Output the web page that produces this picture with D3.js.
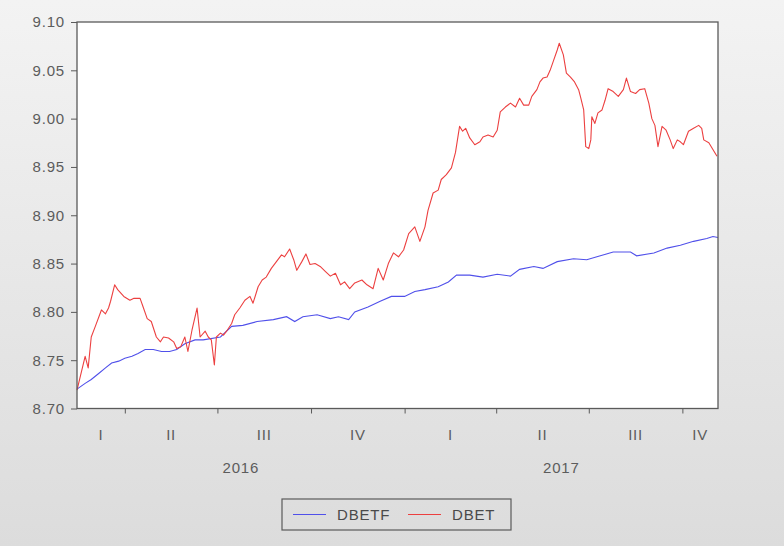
<!DOCTYPE html>
<html>
<head>
<meta charset="utf-8">
<script src="https://cdn.jsdelivr.net/npm/d3@7"></script>
<style>
  html, body { margin: 0; padding: 0; background: #ffffff; }
  svg text { font-family: "Liberation Sans", Arial, sans-serif; letter-spacing: 0.8px; }
</style>
</head>
<body>
<div id="chart"></div>
<script>
// DBET (red)
const dbetDates = [
  "2016-02-14", "2016-02-22", "2016-02-25", "2016-02-28", "2016-03-03", "2016-03-09", "2016-03-13", "2016-03-16", "2016-03-18", "2016-03-22",
  "2016-03-25", "2016-03-31", "2016-04-06", "2016-04-10", "2016-04-16", "2016-04-19", "2016-04-23", "2016-04-27", "2016-05-02", "2016-05-06",
  "2016-05-09", "2016-05-14", "2016-05-19", "2016-05-22", "2016-05-26", "2016-05-30", "2016-06-02", "2016-06-06", "2016-06-11", "2016-06-14",
  "2016-06-19", "2016-06-22", "2016-06-25", "2016-06-28", "2016-06-30", "2016-07-04", "2016-07-07", "2016-07-10", "2016-07-15", "2016-07-18",
  "2016-07-23", "2016-07-28", "2016-08-02", "2016-08-05", "2016-08-10", "2016-08-14", "2016-08-18", "2016-08-23", "2016-08-28", "2016-09-02",
  "2016-09-05", "2016-09-10", "2016-09-14", "2016-09-17", "2016-09-22", "2016-09-26", "2016-09-30", "2016-10-05", "2016-10-10", "2016-10-15",
  "2016-10-20", "2016-10-25", "2016-10-30", "2016-11-03", "2016-11-08", "2016-11-13", "2016-11-20", "2016-11-25", "2016-12-01", "2016-12-06",
  "2016-12-11", "2016-12-16", "2016-12-21", "2016-12-26", "2016-12-31", "2017-01-05", "2017-01-11", "2017-01-16", "2017-01-21", "2017-01-24",
  "2017-01-29", "2017-02-03", "2017-02-06", "2017-02-11", "2017-02-16", "2017-02-20", "2017-02-24", "2017-02-27", "2017-03-02", "2017-03-06",
  "2017-03-11", "2017-03-16", "2017-03-19", "2017-03-24", "2017-03-29", "2017-04-02", "2017-04-05", "2017-04-10", "2017-04-15", "2017-04-20",
  "2017-04-24", "2017-04-28", "2017-05-03", "2017-05-06", "2017-05-11", "2017-05-14", "2017-05-17", "2017-05-21", "2017-05-24", "2017-05-27",
  "2017-05-31", "2017-06-02", "2017-06-06", "2017-06-09", "2017-06-13", "2017-06-17", "2017-06-21", "2017-06-23", "2017-06-26", "2017-06-28",
  "2017-07-01", "2017-07-03", "2017-07-04", "2017-07-07", "2017-07-10", "2017-07-14", "2017-07-17", "2017-07-20", "2017-07-25", "2017-07-30",
  "2017-08-04", "2017-08-07", "2017-08-11", "2017-08-16", "2017-08-20", "2017-08-25", "2017-08-29", "2017-09-01", "2017-09-04", "2017-09-07",
  "2017-09-11", "2017-09-15", "2017-09-19", "2017-09-22", "2017-09-26", "2017-09-29", "2017-10-02", "2017-10-07", "2017-10-12", "2017-10-17",
  "2017-10-20", "2017-10-22", "2017-10-27", "2017-10-31", "2017-11-04"
];
const dbetValues = [
  8.719, 8.754, 8.742, 8.774, 8.785, 8.802, 8.798, 8.804, 8.811, 8.828,
  8.823, 8.816, 8.812, 8.814, 8.814, 8.805, 8.793, 8.790, 8.774, 8.769,
  8.774, 8.773, 8.769, 8.762, 8.764, 8.774, 8.759, 8.781, 8.804, 8.774,
  8.780, 8.774, 8.771, 8.745, 8.774, 8.778, 8.776, 8.780, 8.788, 8.797,
  8.804, 8.812, 8.816, 8.809, 8.826, 8.833, 8.836, 8.845, 8.852, 8.859,
  8.857, 8.865, 8.854, 8.843, 8.852, 8.860, 8.849, 8.850, 8.847, 8.842,
  8.837, 8.840, 8.828, 8.831, 8.824, 8.830, 8.833, 8.828, 8.824, 8.845,
  8.833, 8.850, 8.861, 8.857, 8.864, 8.881, 8.888, 8.873, 8.888, 8.905,
  8.923, 8.926, 8.937, 8.942, 8.949, 8.965, 8.992, 8.987, 8.990, 8.980,
  8.973, 8.976, 8.981, 8.983, 8.981, 8.988, 9.007, 9.012, 9.016, 9.012,
  9.021, 9.014, 9.014, 9.023, 9.030, 9.038, 9.042, 9.043, 9.050, 9.059,
  9.071, 9.078, 9.066, 9.047, 9.043, 9.038, 9.030, 9.022, 9.009, 8.971,
  8.969, 8.978, 9.002, 8.995, 9.006, 9.009, 9.019, 9.031, 9.028, 9.023,
  9.030, 9.042, 9.028, 9.026, 9.030, 9.031, 9.016, 9.000, 8.993, 8.971,
  8.992, 8.988, 8.978, 8.969, 8.978, 8.976, 8.973, 8.987, 8.990, 8.993,
  8.990, 8.978, 8.975, 8.968, 8.961
];

// DBETF (blue)
const dbetfDates = [
  "2016-02-14", "2016-02-22", "2016-02-28", "2016-03-06", "2016-03-13", "2016-03-19", "2016-03-26", "2016-04-01", "2016-04-08", "2016-04-14",
  "2016-04-21", "2016-04-29", "2016-05-07", "2016-05-15", "2016-05-22", "2016-05-30", "2016-06-09", "2016-06-17", "2016-07-04", "2016-07-15",
  "2016-07-26", "2016-08-09", "2016-08-25", "2016-09-07", "2016-09-15", "2016-09-23", "2016-10-07", "2016-10-20", "2016-10-28", "2016-11-07",
  "2016-11-13", "2016-11-26", "2016-12-08", "2016-12-19", "2017-01-01", "2017-01-11", "2017-01-21", "2017-02-03", "2017-02-13", "2017-02-21",
  "2017-03-06", "2017-03-19", "2017-04-02", "2017-04-15", "2017-04-24", "2017-05-08", "2017-05-17", "2017-05-31", "2017-06-16", "2017-06-29",
  "2017-07-09", "2017-07-25", "2017-08-11", "2017-08-17", "2017-09-03", "2017-09-16", "2017-09-29", "2017-10-12", "2017-10-25", "2017-10-31",
  "2017-11-05"
];
const dbetfValues = [
  8.720, 8.726, 8.730, 8.736, 8.742, 8.747, 8.749, 8.752, 8.754, 8.757,
  8.761, 8.761, 8.759, 8.759, 8.761, 8.767, 8.771, 8.771, 8.774, 8.785,
  8.786, 8.790, 8.792, 8.795, 8.790, 8.795, 8.797, 8.793, 8.795, 8.792,
  8.800, 8.805, 8.811, 8.816, 8.816, 8.821, 8.823, 8.826, 8.831, 8.838,
  8.838, 8.836, 8.839, 8.837, 8.844, 8.847, 8.845, 8.852, 8.855, 8.854,
  8.857, 8.862, 8.862, 8.858, 8.861, 8.866, 8.869, 8.873, 8.876, 8.878,
  8.877
];

const yTicks = [8.70, 8.75, 8.80, 8.85, 8.90, 8.95, 9.00, 9.05, 9.10];
const quarterLabels = ["I", "II", "III", "IV"];
const seriesNames = ["DBETF", "DBET"];
const seriesColors = ["#5050ea", "#ec4040"];
const dateRange = ["2016-02-14", "2017-11-05"];

const width = 784;
const height = 546;
const margin = { top: 22, bottom: 137.5, left: 77, right: 66 };

const parse = d3.timeParse("%Y-%m-%d");
const dbet = dbetDates.map((d, i) => ({ date: parse(d), value: dbetValues[i] }));
const dbetf = dbetfDates.map((d, i) => ({ date: parse(d), value: dbetfValues[i] }));

const svg = d3.select("#chart")
    .append("svg")
    .attr("width", width)
    .attr("height", height)
    .attr("viewBox", [0, 0, width, height]);

const grad = svg.append("defs").append("linearGradient")
    .attr("id", "bg")
    .attr("x1", 0).attr("y1", 0).attr("x2", 0).attr("y2", 1);
grad.append("stop").attr("offset", "0%").attr("stop-color", "#f3f3f3");
grad.append("stop").attr("offset", "100%").attr("stop-color", "#dcdcdc");

svg.append("rect")
    .attr("x", 0).attr("y", 0)
    .attr("width", width).attr("height", height)
    .attr("fill", "url(#bg)");

const x = d3.scaleTime()
    .domain(dateRange.map(parse))
    .range([margin.left, width - margin.right]);

const y = d3.scaleLinear()
    .domain([8.70, 9.10])
    .range([height - margin.bottom, margin.top]);

// plot area
svg.append("rect")
    .attr("x", x.range()[0])
    .attr("y", y(9.10))
    .attr("width", x.range()[1] - x.range()[0])
    .attr("height", y(8.70) - y(9.10))
    .attr("fill", "#ffffff");

const line = d3.line()
    .x(d => x(d.date))
    .y(d => y(d.value));

svg.append("path")
    .datum(dbetf)
    .attr("fill", "none")
    .attr("stroke", seriesColors[0])
    .attr("stroke-width", 1.1)
    .attr("d", line);

svg.append("path")
    .datum(dbet)
    .attr("fill", "none")
    .attr("stroke", seriesColors[1])
    .attr("stroke-width", 1.1)
    .attr("stroke-linejoin", "round")
    .attr("d", line);

// frame
svg.append("rect")
    .attr("x", x.range()[0])
    .attr("y", y(9.10))
    .attr("width", x.range()[1] - x.range()[0])
    .attr("height", y(8.70) - y(9.10))
    .attr("fill", "none")
    .attr("stroke", "#5a5a5a")
    .attr("stroke-width", 1.3);

function yAxis(g) {
    g.attr("transform", `translate(${margin.left},0)`)
        .call(d3.axisLeft(y).tickValues(yTicks).tickFormat(d3.format(".2f")).tickSize(6).tickPadding(6))
        .attr("font-size", "15px")
        .call(g => g.select(".domain").remove())
        .call(g => g.selectAll(".tick line").attr("stroke", "#5a5a5a"))
        .call(g => g.selectAll(".tick text").attr("fill", "#5c5c5c"));
}

const quarterTicks = d3.timeMonth.every(3).range(x.domain()[0], x.domain()[1]);

function xAxis(g) {
    g.attr("transform", `translate(0,${y(8.70)})`)
        .call(d3.axisBottom(x).tickValues(quarterTicks).tickFormat("").tickSize(5))
        .call(g => g.select(".domain").remove())
        .call(g => g.selectAll(".tick line").attr("stroke", "#5a5a5a"));
}

svg.append("g").call(yAxis);
svg.append("g").call(xAxis);

// quarter labels centred in the visible part of each quarter
const [d0, d1] = x.domain();
const quarters = d3.timeMonth.every(3).range(d3.timeMonth.every(3).floor(d0), d1);
svg.append("g")
    .attr("font-size", "15px")
    .attr("fill", "#5c5c5c")
    .attr("text-anchor", "middle")
    .selectAll("text")
    .data(quarters)
    .join("text")
    .attr("x", q => {
        const a = q < d0 ? d0 : q;
        const b = d3.timeMonth.offset(q, 3) > d1 ? d1 : d3.timeMonth.offset(q, 3);
        return (x(a) + x(b)) / 2;
    })
    .attr("y", y(8.70) + 31)
    .text(q => quarterLabels[Math.floor(q.getMonth() / 3)]);

const years = d3.timeYear.range(d3.timeYear.floor(d0), d1);
svg.append("g")
    .attr("font-size", "15px")
    .attr("fill", "#5c5c5c")
    .attr("text-anchor", "middle")
    .selectAll("text")
    .data(years)
    .join("text")
    .attr("x", t => {
        const a = t < d0 ? d0 : t;
        const b = d3.timeYear.offset(t, 1) > d1 ? d1 : d3.timeYear.offset(t, 1);
        return (x(a) + x(b)) / 2;
    })
    .attr("y", y(8.70) + 64)
    .text(t => t.getFullYear());

// legend
const legend = svg.append("g").attr("transform", "translate(282,499)");
legend.append("rect")
    .attr("width", 229).attr("height", 31)
    .attr("fill", "none")
    .attr("stroke", "#5a5a5a")
    .attr("stroke-width", 1.2);
const legendX = [11, 126];
const item = legend.selectAll("g.item")
    .data(seriesNames)
    .join("g")
    .attr("class", "item")
    .attr("transform", (d, i) => `translate(${legendX[i]},15.5)`);
item.append("line")
    .attr("x1", 0).attr("x2", 33)
    .attr("stroke", (d, i) => seriesColors[i])
    .attr("stroke-width", 1.1);
item.append("text")
    .attr("x", 44)
    .attr("dy", "0.35em")
    .attr("font-size", "15px")
    .attr("fill", "#4a4a4a")
    .text(d => d);
</script>
</body>
</html>
